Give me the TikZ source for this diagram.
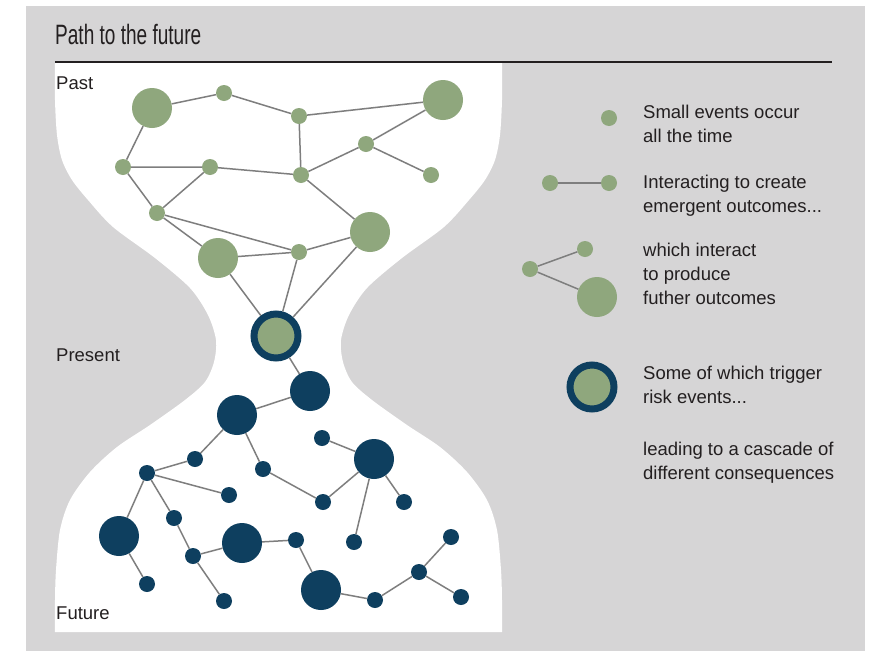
\documentclass[tikz,border=0pt]{standalone}
\usepackage{fontspec}
\setmainfont{Liberation Sans}
\definecolor{bggray}{HTML}{D6D5D6}
\definecolor{sage}{HTML}{8FA77D}
\definecolor{navy}{HTML}{0E3F5F}
\definecolor{edgegray}{HTML}{7E7E7E}
\definecolor{ink}{HTML}{231F20}
\begin{document}
\begin{tikzpicture}[x=1pt,y=-1pt,
  gsmall/.style={circle,fill=sage,inner sep=0pt,minimum size=16pt},
  gbig/.style={circle,fill=sage,inner sep=0pt,minimum size=40pt},
  bsmall/.style={circle,fill=navy,inner sep=0pt,minimum size=16pt},
  bbig/.style={circle,fill=navy,inner sep=0pt,minimum size=40pt},
  trig/.style={circle,fill=sage,draw=navy,line width=7pt,inner sep=0pt,minimum size=44pt},
  link/.style={draw=edgegray,line width=1.5pt},
  lbl/.style={font=\fontsize{18.5}{24}\selectfont,text=ink,inner sep=0pt,anchor=base west,align=left}]
\useasboundingbox (0,0) rectangle (871,651);
\fill[bggray] (26,6) rectangle (865,651);
% hourglass
\fill[white] plot[smooth] coordinates {(55,63) (55,100) (57,135) (62,160) (72,180) (88,200) (113,227) (155,258) (190,288) (208,315) (216,340) (214,362) (205,382) (185,400) (150,425) (117,447) (90,472) (70,500) (60,530) (56,570) (55,600) (55,632)}
  -- plot[smooth] coordinates {(502,632) (502,600) (501,570) (497,530) (487,500) (467,472) (440,447) (407,425) (372,400) (352,382) (343,362) (341,340) (349,315) (367,288) (402,258) (444,227) (469,200) (485,180) (495,160) (500,135) (502,100) (502,63)} -- cycle;
% title
\node[inner sep=0pt,anchor=base west,text=ink] (title) at (55,44) {\scalebox{0.68}[1]{\fontsize{28}{28}\selectfont Path to the future}};
\draw[ink,line width=2pt] (55,62) -- (832,62);
% side labels
\node[lbl] (past) at (56,89) {Past};
\node[lbl] (present) at (56,361) {Present};
\node[lbl] (future) at (56,619) {Future};
% upper network
\node[gbig] (g1) at (152,108) {};
\node[gsmall] (g2) at (224,93) {};
\node[gsmall] (g3) at (299,116) {};
\node[gbig] (g4) at (443,100) {};
\node[gsmall] (g5) at (366,144) {};
\node[gsmall] (g6) at (431,175) {};
\node[gsmall] (g7) at (123,167) {};
\node[gsmall] (g8) at (210,167) {};
\node[gsmall] (g9) at (301,175) {};
\node[gsmall] (g10) at (157,213) {};
\node[gbig] (g11) at (370,232) {};
\node[gsmall] (g12) at (299,252) {};
\node[gbig] (g13) at (218,258) {};
\node[trig] (t) at (276,336) {};
% lower network
\node[bbig] (b1) at (310,391) {};
\node[bbig] (b2) at (237,415) {};
\node[bsmall] (b3) at (322,438) {};
\node[bbig] (b4) at (374,459) {};
\node[bsmall] (b5) at (195,459) {};
\node[bsmall] (b6) at (147,473) {};
\node[bsmall] (b7) at (263,469) {};
\node[bsmall] (b8) at (229,495) {};
\node[bsmall] (b9) at (323,502) {};
\node[bsmall] (b10) at (404,502) {};
\node[bsmall] (b11) at (174,518) {};
\node[bbig] (b12) at (119,536) {};
\node[bbig] (b13) at (242,543) {};
\node[bsmall] (b14) at (296,540) {};
\node[bsmall] (b15) at (354,542) {};
\node[bsmall] (b16) at (451,537) {};
\node[bsmall] (b17) at (193,556) {};
\node[bsmall] (b18) at (419,572) {};
\node[bsmall] (b19) at (147,584) {};
\node[bbig] (b20) at (321,590) {};
\node[bsmall] (b21) at (224,601) {};
\node[bsmall] (b22) at (375,600) {};
\node[bsmall] (b23) at (461,597) {};
% edges
\path[link] (g1) -- (g2) (g2) -- (g3) (g3) -- (g4) (g3) -- (g9) (g4) -- (g5)
  (g5) -- (g9) (g5) -- (g6) (g1) -- (g7) (g7) -- (g8) (g7) -- (g10)
  (g8) -- (g9) (g8) -- (g10) (g10) -- (g12) (g10) -- (g13) (g13) -- (g12)
  (g12) -- (g11) (g9) -- (g11) (g13) -- (t) (g12) -- (t) (g11) -- (t);
\path[link] (t) -- (b1) (b1) -- (b2) (b2) -- (b5) (b2) -- (b7) (b5) -- (b6)
  (b6) -- (b8) (b6) -- (b11) (b6) -- (b12) (b7) -- (b9) (b9) -- (b4)
  (b3) -- (b4) (b4) -- (b10) (b4) -- (b15) (b11) -- (b17) (b17) -- (b13)
  (b17) -- (b21) (b13) -- (b14) (b14) -- (b20) (b20) -- (b22) (b22) -- (b18)
  (b18) -- (b16) (b18) -- (b23) (b12) -- (b19);
% legend
\node[gsmall] (l1) at (609,118) {};
\node[gsmall] (l2a) at (550,183) {};
\node[gsmall] (l2b) at (609,183) {};
\path[link] (l2a) -- (l2b);
\node[gsmall] (l3a) at (585,249) {};
\node[gsmall] (l3b) at (530,269) {};
\node[gbig] (l3c) at (597,297) {};
\path[link] (l3b) -- (l3a) (l3b) -- (l3c);
\node[trig] (l4) at (592,387) {};
\node[lbl] (tx1) at (643,142) {Small events occur\\all the time};
\node[lbl] (tx2) at (643,212) {Interacting to create\\emergent outcomes...};
\node[lbl] (tx3) at (643,304) {which interact\\to produce\\futher outcomes};
\node[lbl] (tx4) at (643,403) {Some of which trigger\\risk events...};
\node[lbl] (tx5) at (643,479) {leading to a cascade of\\different consequences};
\end{tikzpicture}
\end{document}
